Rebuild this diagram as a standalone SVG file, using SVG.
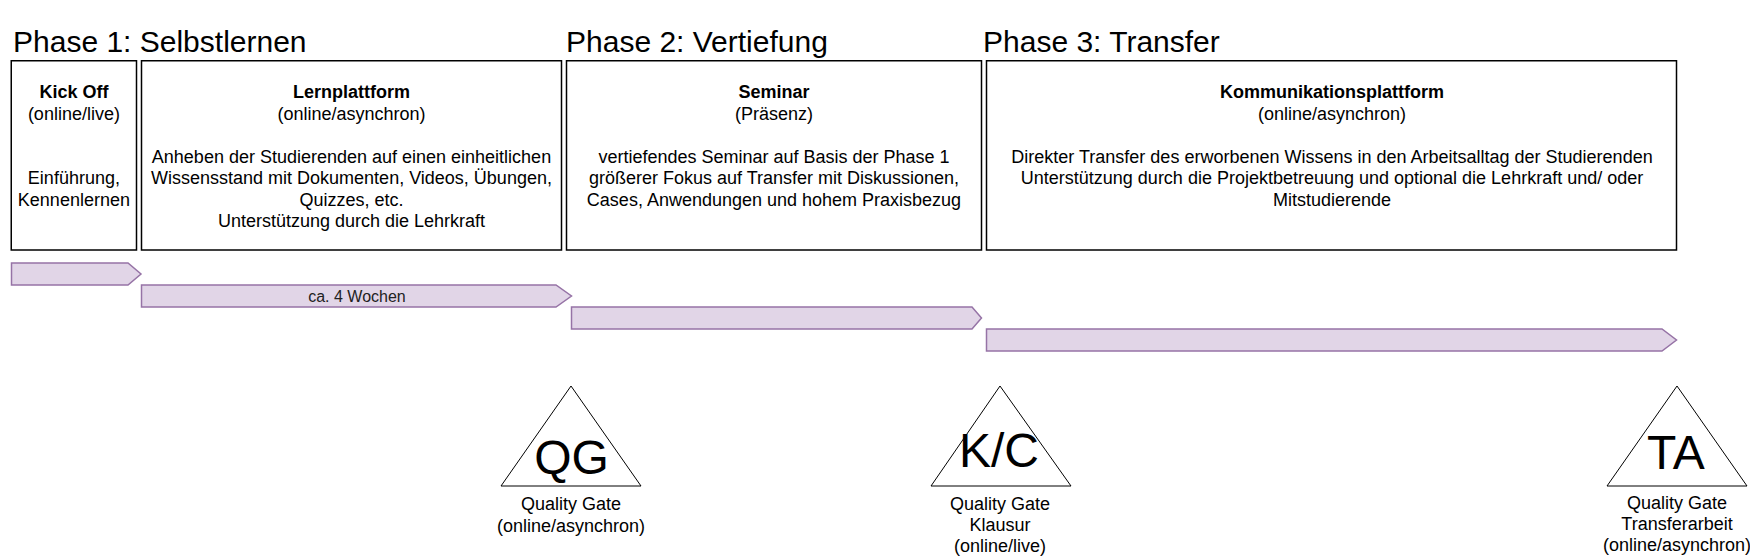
<svg xmlns="http://www.w3.org/2000/svg" width="1750" height="558" viewBox="0 0 1750 558">
<style>
text { font-family: "Liberation Sans", Arial, sans-serif; fill: #000; }
.title { font-size: 30px; }
.t { font-size: 18px; text-anchor: middle; }
.b { font-weight: bold; }
.box { fill: #fff; stroke: #000; stroke-width: 1.5; }
.step { fill: #e1d5e7; stroke: #9673a6; stroke-width: 1.5; }
.tri { fill: #fff; stroke: #000; stroke-width: 1; }
.big { font-size: 48px; text-anchor: middle; }
.small { font-size: 16px; text-anchor: middle; fill: #222; }
</style>
<rect width="1750" height="558" fill="#fff"/>

<g id="titles">
  <text class="title" x="13" y="51.5">Phase 1: Selbstlernen</text>
  <text class="title" x="566" y="51.5">Phase 2: Vertiefung</text>
  <text class="title" x="983" y="51.5">Phase 3: Transfer</text>
</g>

<g id="kickoff">
  <rect class="box" x="11.25" y="60.75" width="125.25" height="189.25"/>
  <text class="t" x="73.9" y="98"><tspan class="b">Kick Off</tspan><tspan x="73.9" y="119.5">(online/live)</tspan><tspan x="73.9" y="184">Einführung,</tspan><tspan x="73.9" y="205.5">Kennenlernen</tspan></text>
</g>

<g id="lernplattform">
  <rect class="box" x="141.5" y="60.75" width="420" height="189.25"/>
  <text class="t" x="351.5" y="98"><tspan class="b">Lernplattform</tspan><tspan x="351.5" y="119.5">(online/asynchron)</tspan><tspan x="351.5" y="162.5">Anheben der Studierenden auf einen einheitlichen</tspan><tspan x="351.5" y="184">Wissensstand mit Dokumenten, Videos, Übungen,</tspan><tspan x="351.5" y="205.5">Quizzes, etc.</tspan><tspan x="351.5" y="227">Unterstützung durch die Lehrkraft</tspan></text>
</g>

<g id="seminar">
  <rect class="box" x="566.5" y="60.75" width="415" height="189.25"/>
  <text class="t" x="774" y="98"><tspan class="b">Seminar</tspan><tspan x="774" y="119.5">(Präsenz)</tspan><tspan x="774" y="162.5">vertiefendes Seminar auf Basis der Phase 1</tspan><tspan x="774" y="184">größerer Fokus auf Transfer mit Diskussionen,</tspan><tspan x="774" y="205.5">Cases, Anwendungen und hohem Praxisbezug</tspan></text>
</g>

<g id="kommunikationsplattform">
  <rect class="box" x="986.5" y="60.75" width="690" height="189.25"/>
  <text class="t" x="1332" y="98"><tspan class="b">Kommunikationsplattform</tspan><tspan x="1332" y="119.5">(online/asynchron)</tspan><tspan x="1332" y="162.5">Direkter Transfer des erworbenen Wissens in den Arbeitsalltag der Studierenden</tspan><tspan x="1332" y="184">Unterstützung durch die Projektbetreuung und optional die Lehrkraft und/ oder</tspan><tspan x="1332" y="205.5">Mitstudierende</tspan></text>
</g>

<g id="step-kickoff">
  <polygon class="step" points="11.5,263 128,263 141,274 128,285 11.5,285"/>
</g>
<g id="step-phase1">
  <polygon class="step" points="141.5,285 556,285 571.5,296 556,307 141.5,307"/>
  <text class="small" x="357" y="301.5">ca. 4 Wochen</text>
</g>
<g id="step-phase2">
  <polygon class="step" points="571.5,307 972,307 981.5,318 972,329 571.5,329"/>
</g>
<g id="step-phase3">
  <polygon class="step" points="986.5,329 1662,329 1676.5,340 1662,351 986.5,351"/>
</g>

<g id="gate-qg">
  <polygon class="tri" points="501,486 571,386 641,486"/>
  <text class="big" x="571.5" y="474">QG</text>
  <text class="t" x="571" y="510">Quality Gate<tspan x="571" y="531.5">(online/asynchron)</tspan></text>
</g>

<g id="gate-kc">
  <polygon class="tri" points="931,486 1000,386 1071,486"/>
  <text class="big" x="999" y="467">K/C</text>
  <text class="t" x="1000" y="510">Quality Gate<tspan x="1000" y="531">Klausur</tspan><tspan x="1000" y="552">(online/live)</tspan></text>
</g>

<g id="gate-ta">
  <polygon class="tri" points="1607,486 1677,386 1747,486"/>
  <text class="big" x="1676" y="469">TA</text>
  <text class="t" x="1677" y="509">Quality Gate<tspan x="1677" y="530">Transferarbeit</tspan><tspan x="1677" y="551">(online/asynchron)</tspan></text>
</g>

<g id="connectors"/>
</svg>
